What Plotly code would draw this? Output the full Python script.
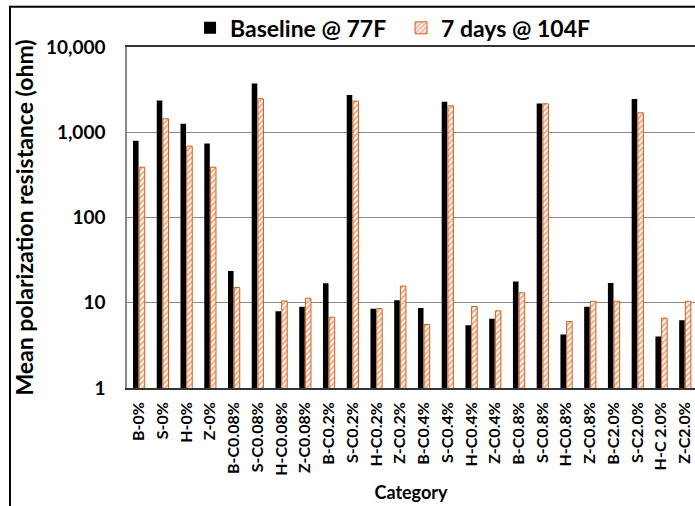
import plotly.graph_objects as go

categories = ["B-0%", "S-0%", "H-0%", "Z-0%",
              "B-C0.08%", "S-C0.08%", "H-C0.08%", "Z-C0.08%",
              "B-C0.2%", "S-C0.2%", "H-C0.2%", "Z-C0.2%",
              "B-C0.4%", "S-C0.4%", "H-C0.4%", "Z-C0.4%",
              "B-C0.8%", "S-C0.8%", "H-C0.8%", "Z-C0.8%",
              "B-C2.0%", "S-C2.0%", "H-C 2.0%", "Z-C2.0%"]

baseline_77F = [793, 2360, 1256, 738,
                23.5, 3740, 7.96, 8.95,
                16.9, 2730, 8.48, 10.7,
                8.7, 2275, 5.46, 6.47,
                17.8, 2175, 4.24, 8.95,
                17.1, 2450, 4.02, 6.25]

days7_104F = [389, 1440, 687, 389,
              15.1, 2470, 10.5, 11.3,
              6.77, 2320, 8.57, 15.7,
              5.56, 2040, 9.04, 8.03,
              13.1, 2157, 6.03, 10.4,
              10.4, 1690, 6.59, 10.4]

y_ticks = [1, 10, 100, 1000, 10000]
y_tick_text = ["1", "10", "100", "1,000", "10,000"]

ORANGE = "#D2601A"
FONT = "Lato"

fig = go.Figure()
fig.add_trace(go.Bar(
    name="Baseline @ 77F", x=categories, y=baseline_77F,
    marker=dict(color="black", line=dict(width=0)),
))
fig.add_trace(go.Bar(
    name="7 days @ 104F", x=categories, y=days7_104F,
    marker=dict(color="white",
                line=dict(color=ORANGE, width=1),
                pattern=dict(shape="/", fgcolor=ORANGE, bgcolor="white",
                             size=4, solidity=0.55)),
))

fig.update_layout(
    width=695, height=506,
    margin=dict(l=127, r=0, t=47, b=118),
    paper_bgcolor="white", plot_bgcolor="white",
    barmode="group", bargap=0.48, bargroupgap=0.1,
    font=dict(family=FONT, color="black", weight="bold"),
    legend=dict(orientation="h", x=0.111, xanchor="left",
                y=1.056, yanchor="middle", entrywidth=166,
                font=dict(size=23, family=FONT, weight="bold"),
                bgcolor="rgba(0,0,0,0)"),
    xaxis=dict(
        range=[-0.5, 23.42],
        showline=True, linecolor="#333333", linewidth=1.5, mirror=True,
        showgrid=False, ticks="",
        tickangle=-90, tickfont=dict(size=16, family=FONT, weight="bold"),
        ticklabelstandoff=6,
        title=dict(text="Category", font=dict(size=18, family=FONT, weight="bold"),
                   standoff=12),
    ),
    yaxis=dict(
        type="log", range=[0, 4],
        tickvals=y_ticks, ticktext=y_tick_text,
        showline=True, linecolor="#888888", linewidth=1.5,
        showgrid=True, gridcolor="#888888", gridwidth=1.2,
        ticks="", tickfont=dict(size=19, family=FONT, weight="bold"),
        ticklabelstandoff=16,
        title=dict(text="Mean polarization resistance (ohm)",
                   font=dict(size=23, family=FONT, weight="bold"), standoff=6),
    ),
    shapes=[
        dict(type="line", xref="paper", yref="paper",
             x0=-0.206, x1=1.1, y0=1.118, y1=1.118, layer="above",
             line=dict(color="black", width=2)),
        dict(type="line", xref="paper", yref="paper",
             x0=-0.206, x1=-0.206, y0=-0.5, y1=1.121, layer="above",
             line=dict(color="black", width=2)),
    ],
)

fig.write_html("out.html", config={"displayModeBar": False},
               post_script="document.body.style.margin='0';document.body.style.overflow='hidden';")
